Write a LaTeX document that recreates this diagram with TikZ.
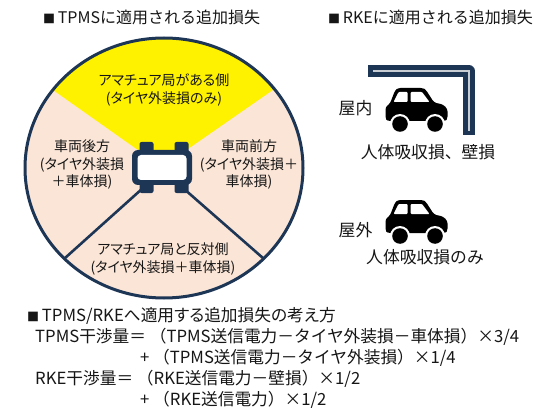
\documentclass[tikz,border=0pt]{standalone}
\usepackage{fontspec}
\setmainfont{Noto Sans CJK JP}
\newfontfamily\jpp{Noto Sans CJK JP}[RawFeature=+palt]
\definecolor{navy}{RGB}{30,54,86}
\definecolor{peach}{RGB}{251,229,214}
\definecolor{txt}{RGB}{22,22,22}
\definecolor{wallgray}{RGB}{200,205,212}
\newcommand{\sidecar}[1]{%
  \begin{scope}[shift={#1}]
    \fill[black, rounded corners=2.5] (0.5,31) -- (0.5,19) -- (5,15.5) -- (10,2.5) -- (13,0) -- (38,0) -- (41,2) -- (49,14.5) -- (58,16.5) -- (62.5,21) -- (62.5,31) -- (60,33) -- (3,33) -- cycle;
    \fill[white, rounded corners=1] (13.5,4) -- (22.5,4) -- (22.5,14) -- (8.5,14) -- cycle;
    \fill[white, rounded corners=1] (25.5,4) -- (37,4) -- (44.5,14) -- (25.5,14) -- cycle;
    \fill[white] (15,36) circle [radius=10];
    \fill[white] (50,36) circle [radius=10];
    \fill[black] (15,36) circle [radius=7.8];
    \fill[black] (50,36) circle [radius=7.8];
  \end{scope}}
\newcommand{\sq}{{\fontsize{12}{12}\selectfont ■}\,}
\begin{document}
\begin{tikzpicture}[x=1pt,y=-1pt,
  every node/.style={inner sep=0pt, text=txt},
  titletext/.style={font=\fontsize{16}{19}\selectfont, anchor=west},
  sectortext/.style={font=\jpp\fontsize{14}{18}\selectfont, align=center},
  sidelabel/.style={font=\fontsize{16.8}{20}\selectfont},
  formula/.style={font=\fontsize{16.7}{20}\selectfont, anchor=west},
  divider/.style={navy, line width=2.6},
  wheelbox/.style={navy, rounded corners=2}]
\fill[white] (0,0) rectangle (533,409);
\useasboundingbox (0,0) rectangle (533,409);

% titles
\node[titletext] (t1) at (43,17) {\sq TPMSに適用される追加損失};
\node[titletext] (t2) at (328,17) {\sq RKEに適用される追加損失};

% circle
\fill[peach] (164,168) ellipse [x radius=139, y radius=130];
\begin{scope}
  \clip (164,168) ellipse [x radius=139, y radius=130];
  \fill[yellow] (162,167) -- (-56,13) -- (-56,-100) -- (380,-100) -- (378,17) -- cycle;
\end{scope}
\coordinate (bl0) at (143,188);
\coordinate (bl1) at (64.5,258.5);
\coordinate (br0) at (183,188);
\coordinate (br1) at (263.5,258.5);
\draw[divider] (bl0) -- (bl1);
\draw[divider] (br0) -- (br1);
\draw[navy, line width=3] (164,168) ellipse [x radius=139, y radius=130];

% top-view car
\fill[wheelbox] (139.5,142) rectangle (153.5,153);
\fill[wheelbox] (174.5,142) rectangle (188.5,153);
\fill[wheelbox] (139.5,182) rectangle (153.5,193);
\fill[wheelbox] (174.5,182) rectangle (188.5,193);
\fill[navy, rounded corners=6] (132,150) rectangle (192,185);
\fill[white, rounded corners=3.5] (137.5,155) rectangle (186.5,180);

% sector texts
\node[sectortext] (s1) at (164,90) {アマチュア局がある側\\(タイヤ外装損のみ)};
\node[sectortext, font=\jpp\fontsize{14}{17.5}\selectfont] (s2) at (82,164.5) {車両後方\\(タイヤ外装損\\＋車体損)};
\node[sectortext, font=\jpp\fontsize{14}{17.5}\selectfont] (s3) at (249,164.5) {車両前方\\(タイヤ外装損＋\\車体損)};
\node[sectortext] (s4) at (163,259) {アマチュア局と反対側\\(タイヤ外装損＋車体損)};

% RKE side
\draw[navy, line width=11.5, line join=round] (368,71) -- (469,71) -- (469,135);
\draw[wallgray, line width=2] (373,71) -- (469,71) -- (469,131);
\sidecar{(385,88)}
\sidecar{(385,200)}
\node[sidelabel] (in) at (355.5,108) {屋内};
\node[sidelabel] (inl) at (428,152) {人体吸収損、壁損};
\node[sidelabel] (out) at (355.5,230) {屋外};
\node[sidelabel] (outl) at (425,257) {人体吸収損のみ};

% formulas
\node[formula, font=\jpp\fontsize{16.7}{20}\selectfont] (f1) at (27,316) {\sq TPMS/RKEへ適用する追加損失の考え方};
\node[formula] (f2) at (35,337) {TPMS干渉量＝ （TPMS送信電力－タイヤ外装損－車体損）×3/4};
\node[formula] (f3) at (140,358) {+ （TPMS送信電力－タイヤ外装損）×1/4};
\node[formula] (f4) at (35,379) {RKE干渉量＝ （RKE送信電力－壁損）×1/2};
\node[formula] (f5) at (140,400) {+ （RKE送信電力）×1/2};
\end{tikzpicture}
\end{document}
